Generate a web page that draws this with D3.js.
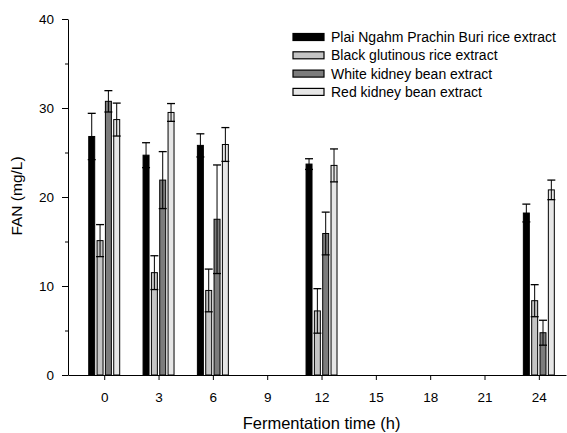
<!DOCTYPE html>
<html><head><meta charset="utf-8">
<script src="https://cdn.jsdelivr.net/npm/d3@7"></script>
<style>body{margin:0;background:#fff}svg{display:block;font-family:"Liberation Sans",Arial,sans-serif}</style>
</head><body>
<svg id="c" width="567" height="433"></svg>
<script>
const times = [0, 3, 6, 12, 24];
const seriesNames = ["Plai Ngahm Prachin Buri rice extract","Black glutinous rice extract","White kidney bean extract","Red kidney bean extract"];
const plaiNgahm = [26.8, 24.7, 25.8, 23.7, 18.2];
const plaiNgahmErr = [2.6, 1.4, 1.3, 0.6, 1.0];
const blackGlutinous = [15.1, 11.5, 9.5, 7.2, 8.35];
const blackGlutinousErr = [1.8, 1.9, 2.4, 2.5, 1.8];
const whiteKidney = [30.75, 21.9, 17.5, 15.9, 4.75];
const whiteKidneyErr = [1.2, 3.2, 6.1, 2.4, 1.4];
const redKidney = [28.7, 29.5, 25.9, 23.55, 20.8];
const redKidneyErr = [1.85, 1.0, 1.9, 1.85, 1.1];
const xTicks = [0, 3, 6, 9, 12, 15, 18, 21, 24];
const yTicks = [0, 10, 20, 30, 40];
const yMinor = [5, 15, 25, 35];
const colors = ["#000000", "#c4c4c4", "#7c7c7c", "#e6e6e6"];

const values = [plaiNgahm, blackGlutinous, whiteKidney, redKidney];
const errs = [plaiNgahmErr, blackGlutinousErr, whiteKidneyErr, redKidneyErr];

const svg = d3.select("#c");
const x = d3.scaleLinear().domain([-2, 25.5]).range([68, 566]);
const y = d3.scaleLinear().domain([0, 40]).range([375, 19]);
const pitch = 0.46, bw = 0.33;

// bars
values.forEach((vals, s) => {
  const g = svg.append("g");
  vals.forEach((v, i) => {
    const cx = times[i] + (s - 1.5) * pitch;
    const x0 = x(cx - bw/2), x1 = x(cx + bw/2);
    g.append("rect").attr("x", x0).attr("y", y(v)).attr("width", x1 - x0).attr("height", y(0) - y(v))
      .attr("fill", colors[s]).attr("stroke", "#000").attr("stroke-width", 1);
    const e = errs[s][i];
    const xm = x(cx), cw = (x1 - x0) / 2 + 1;
    g.append("line").attr("x1", xm).attr("x2", xm).attr("y1", y(v - e)).attr("y2", y(v + e)).attr("stroke", "#000").attr("stroke-width", 1);
    [v - e, v + e].forEach(t => g.append("line").attr("x1", xm - cw).attr("x2", xm + cw).attr("y1", y(t)).attr("y2", y(t)).attr("stroke", "#000").attr("stroke-width", 1.3));
  });
});

// axes
const xa = svg.append("g").attr("transform", "translate(0,375)")
  .call(d3.axisBottom(x).tickValues(xTicks).tickSize(5).tickPadding(12).tickSizeOuter(0));
const ya = svg.append("g").attr("transform", "translate(68,0)")
  .call(d3.axisLeft(y).tickValues(yTicks).tickSize(6).tickPadding(8).tickSizeOuter(0));
svg.append("g").attr("transform", "translate(68,0)")
  .call(d3.axisLeft(y).tickValues(yMinor).tickSize(3).tickFormat("").tickSizeOuter(0))
  .select(".domain").remove();
[xa, ya].forEach(a => { a.selectAll("text").attr("font-size", 13.5).attr("fill", "#000").attr("font-family", "Liberation Sans, Arial, sans-serif"); a.selectAll("line,path").attr("stroke", "#000"); });

svg.append("text").attr("x", x(12)).attr("y", 429).attr("text-anchor", "middle").attr("font-size", 16.5).text("Fermentation time (h)");
svg.append("text").attr("transform", "translate(22,196) rotate(-90)").attr("text-anchor", "middle").attr("font-size", 15.5).text("FAN (mg/L)");

// legend
const lg = svg.append("g");
seriesNames.forEach((n, i) => {
  const yy = 33.5 + i * 18.3;
  lg.append("rect").attr("x", 293).attr("y", yy).attr("width", 31).attr("height", 7).attr("fill", colors[i]).attr("stroke", "#000").attr("stroke-width", 1.2);
  lg.append("text").attr("x", 331).attr("y", yy + 8.5).attr("font-size", 14).text(n);
});
</script>
</body></html>
